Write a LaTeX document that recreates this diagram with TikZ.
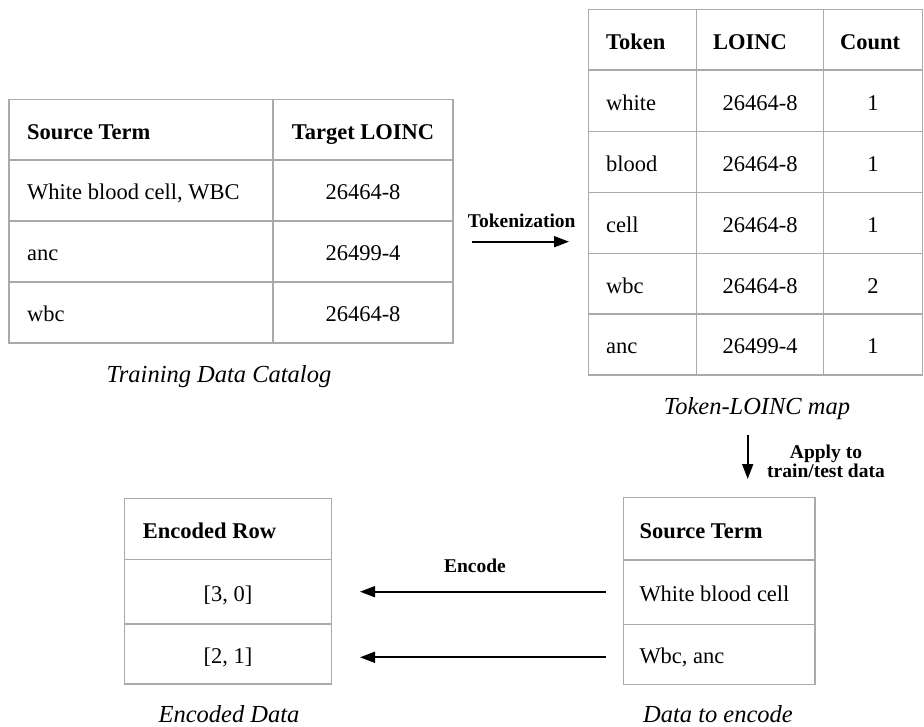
\documentclass[tikz,border=0pt]{standalone}
\usepackage{fontspec}
\setmainfont{Liberation Serif}
\usetikzlibrary{arrows.meta}
\definecolor{gridgray}{RGB}{170,170,170}
\begin{document}
\begin{tikzpicture}[x=1pt,y=-1pt,
  gridline/.style={draw=gridgray,line width=1.5pt},
  cell/.style={inner sep=0pt,font=\fontsize{22.5}{27}\selectfont},
  head/.style={inner sep=0pt,font=\fontsize{22.5}{27}\selectfont\bfseries},
  captext/.style={inner sep=0pt,anchor=base,font=\fontsize{24.5}{29}\selectfont\itshape},
  lbl/.style={inner sep=0pt,anchor=base,font=\fontsize{19.5}{22}\selectfont\bfseries},
  arr/.style={line width=1.7pt,-{Triangle[length=15pt,width=11pt]}}]
\useasboundingbox (0,0) rectangle (924,727);

% ---------- Table 1: Training Data Catalog ----------
\draw[gridline] (9,99.5) rectangle (453,343);
\draw[gridline] (273,99.5) -- (273,343);
\foreach \y in {160,221,282} \draw[gridline] (9,\y) -- (453,\y);
\node[head,anchor=base west] (t1h1) at (27,139.5) {Source Term};
\node[head,anchor=base] (t1h2) at (363,139.5) {Target LOINC};
\node[cell,anchor=base west] (t1a1) at (27,200) {White blood cell, WBC};
\node[cell,anchor=base] (t1a2) at (363,200) {26464-8};
\node[cell,anchor=base west] (t1b1) at (27,261) {anc};
\node[cell,anchor=base] (t1b2) at (363,261) {26499-4};
\node[cell,anchor=base west] (t1c1) at (27,322) {wbc};
\node[cell,anchor=base] (t1c2) at (363,322) {26464-8};
\node[captext] (cap1) at (219,382) {Training Data Catalog};

% ---------- Table 2: Token-LOINC map ----------
\draw[gridline] (588.3,9.3) rectangle (922.5,375);
\draw[gridline] (696.7,9.3) -- (696.7,375);
\draw[gridline] (823.3,9.3) -- (823.3,375);
\foreach \y in {70,131.7,192.3,253.3,314} \draw[gridline] (588.3,\y) -- (922.5,\y);
\node[head,anchor=base west] (t2h1) at (606,49.2) {Token};
\node[head,anchor=base west] (t2h2) at (713,49.2) {LOINC};
\node[head,anchor=base west] (t2h3) at (840,49.2) {Count};
\foreach \tok/\code/\cnt/\yb/\i in {white/26464-8/1/110.4/1, blood/26464-8/1/171.5/2, cell/26464-8/1/232.3/3, wbc/26464-8/2/293.2/4, anc/26499-4/1/354/5}{
  \node[cell,anchor=base west] (t2r\i a) at (606,\yb) {\tok};
  \node[cell,anchor=base] (t2r\i b) at (760,\yb) {\code};
  \node[cell,anchor=base] (t2r\i c) at (873,\yb) {\cnt};
}
\node[captext] (cap2) at (757,414) {Token-LOINC map};

% ---------- Table 3: Encoded Data ----------
\draw[gridline] (124.3,498.3) rectangle (331.7,684);
\foreach \y in {559.3,624} \draw[gridline] (124.3,\y) -- (331.7,\y);
\node[head,anchor=base west] (t3h) at (142.7,538.3) {Encoded Row};
\node[cell,anchor=base] (t3a) at (228,601.2) {[3, 0]};
\node[cell,anchor=base] (t3b) at (228,663.5) {[2, 1]};
\node[captext] (cap3) at (229,722) {Encoded Data};

% ---------- Table 4: Data to encode ----------
\draw[gridline] (623.3,497.7) rectangle (815,684.3);
\foreach \y in {560,624.3} \draw[gridline] (623.3,\y) -- (815,\y);
\node[head,anchor=base west] (t4h) at (639.3,538.3) {Source Term};
\node[cell,anchor=base west] (t4a) at (639.3,601.6) {White blood cell};
\node[cell,anchor=base west] (t4b) at (639.3,663.8) {Wbc, anc};
\node[captext] (cap4) at (718,722) {Data to encode};

% ---------- Arrows ----------
\coordinate (tokS) at (472,241.7);
\coordinate (tokE) at (569,241.7);
\draw[arr] (tokS) -- (tokE);
\node[lbl] (tokL) at (521.7,227.7) {Tokenization};

\coordinate (appS) at (747.7,435);
\coordinate (appE) at (747.7,479);
\draw[arr] (appS) -- (appE);
\node[lbl] (appL1) at (826,458) {Apply to};
\node[lbl] (appL2) at (826,477.5) {train/test data};

\coordinate (encS1) at (606,591.7);
\coordinate (encE1) at (360,591.7);
\coordinate (encS2) at (606,657.3);
\coordinate (encE2) at (360,657.3);
\draw[arr] (encS1) -- (encE1);
\draw[arr] (encS2) -- (encE2);
\node[lbl] (encL) at (475,572.7) {Encode};
\end{tikzpicture}
\end{document}
